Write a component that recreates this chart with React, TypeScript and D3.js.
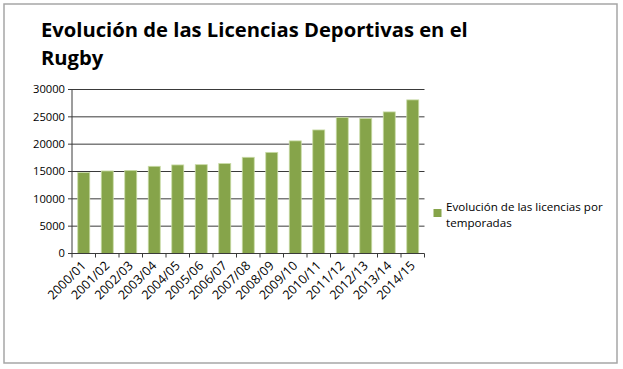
import React from "react";
import * as d3 from "d3";

const title1 = "Evolución de las Licencias Deportivas en el";
const title2 = "Rugby";
const seriesName = "Evolución de las licencias por";
const seriesName2 = "temporadas";
const categories = [
  "2000/01", "2001/02", "2002/03", "2003/04", "2004/05", "2005/06", "2006/07", "2007/08",
  "2008/09", "2009/10", "2010/11", "2011/12", "2012/13", "2013/14", "2014/15",
];
const values = [14800, 15100, 15200, 15950, 16200, 16250, 16450, 17600, 18500, 20600, 22600, 24900, 24700, 25900, 28100];
const yTicks = [0, 5000, 10000, 15000, 20000, 25000, 30000];

const W = 623;
const H = 369;
const plot = { left: 72, right: 424.5, top: 89.5, bottom: 253.5 };
const FONT = "'Open Sans', 'DejaVu Sans', sans-serif";

export default function App() {
  const x = d3.scaleBand<string>().domain(categories).range([plot.left, plot.right]).padding(0);
  const y = d3.scaleLinear().domain([0, 30000]).range([plot.bottom, plot.top]);
  const bw = x.bandwidth() * 0.51;
  const lineColor = "#3a3a3a";

  return (
    <svg width={W} height={H} style={{ position: "absolute", left: 0, top: 0, background: "#fff" }}>
      <rect x={4} y={4} width={613} height={359} fill="#fff" stroke="#a6a6a6" strokeWidth={1.5} />
      <text x={41} y={37} fontFamily={FONT} fontWeight={700} fontSize={20.2} fill="#000">{title1}</text>
      <text x={41} y={65} fontFamily={FONT} fontWeight={700} fontSize={20.2} fill="#000">{title2}</text>

      {yTicks.map((t) => (
        <g key={t}>
          {t > 0 && (
            <line x1={plot.left} x2={plot.right} y1={y(t)} y2={y(t)} stroke={lineColor} strokeWidth={1} />
          )}
          <line x1={plot.left - 4} x2={plot.left} y1={y(t)} y2={y(t)} stroke={lineColor} strokeWidth={1} />
          <text x={65} y={y(t)} dy="0.35em" textAnchor="end" fontFamily={FONT} fontSize={11.2} fill="#000">
            {t}
          </text>
        </g>
      ))}

      {categories.map((c, i) => (
        <rect
          key={c}
          x={(x(c) as number) + (x.bandwidth() - bw) / 2}
          y={y(values[i])}
          width={bw}
          height={y(0) - y(values[i])}
          fill="#86a44a"
          stroke="#c9dba6"
          strokeWidth={0.8}
        />
      ))}

      <line x1={plot.left} x2={plot.left} y1={plot.top} y2={plot.bottom} stroke={lineColor} strokeWidth={1} />
      <line x1={plot.left} x2={plot.right} y1={plot.bottom} y2={plot.bottom} stroke={lineColor} strokeWidth={1} />
      {categories.concat(["__end"]).map((c, i) => {
        const xx = plot.left + i * x.step();
        return <line key={c} x1={xx} x2={xx} y1={plot.bottom} y2={plot.bottom + 4} stroke={lineColor} strokeWidth={1} />;
      })}

      {categories.map((c) => {
        const cx = (x(c) as number) + x.bandwidth() / 2 + 3;
        return (
          <text
            key={c}
            transform={`translate(${cx},${plot.bottom + 13}) rotate(-45)`}
            textAnchor="end"
            fontFamily={FONT}
            fontSize={12.6}
            fill="#000"
          >
            {c}
          </text>
        );
      })}

      <rect x={433.5} y={209} width={8} height={8} fill="#86a44a" />
      <text x={446} y={211} fontFamily={FONT} fontSize={11.6} fill="#000">{seriesName}</text>
      <text x={446} y={227} fontFamily={FONT} fontSize={11.6} fill="#000">{seriesName2}</text>
    </svg>
  );
}
